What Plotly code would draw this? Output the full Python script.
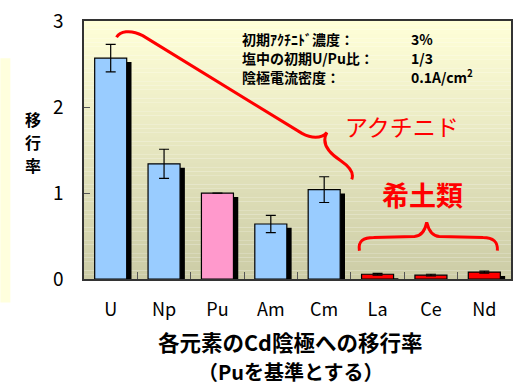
import plotly.graph_objects as go

# ---- data ----
categories = ["U", "Np", "Pu", "Am", "Cm", "La", "Ce", "Nd"]
transfer_ratio = [2.57, 1.34, 1.00, 0.64, 1.04, 0.055, 0.045, 0.08]
error_plus = [0.16, 0.17, 0.0, 0.10, 0.15, 0.01, 0.01, 0.012]
bar_colors = ["#99CCFF", "#99CCFF", "#FF99CC", "#99CCFF", "#99CCFF",
              "#FF0000", "#FF0000", "#FF0000"]
y_ticks = [0, 1, 2, 3]
y_title_chars = ["移", "行", "率"]
info_labels = ["初期ｱｸﾁﾆﾄﾞ濃度：", "塩中の初期U/Pu比：", "陰極電流密度："]
info_values = ["3%", "1/3", "0.1A/cm<sup>2</sup>"]

W, H = 519, 389
L, R, T, B = 84, 6, 15, 110
PW, PH = W - L - R, H - T - B

def px(x, y):
    return (x - L) / PW, (H - B - y) / PH

FONT = "Noto Sans CJK JP"

fig = go.Figure()

# shadow bars
fig.add_trace(go.Bar(
    x=categories, y=transfer_ratio, base=-0.045,
    width=0.6, offset=-0.3 + 0.09,
    marker=dict(color="black", line=dict(width=0)),
    hoverinfo="skip", showlegend=False,
))
# main bars
fig.add_trace(go.Bar(
    x=categories, y=transfer_ratio,
    width=0.6, offset=-0.3,
    marker=dict(color=bar_colors, line=dict(color="black", width=1.2)),
    error_y=dict(type="data", array=error_plus, color="black",
                 thickness=1.2, width=5),
    showlegend=False,
))

shapes = []
# gradient background
n = 60
top = (255, 255, 216)
bot = (204, 204, 166)
for i in range(n):
    f = i / (n - 1)
    c = tuple(int(round(top[k] + (bot[k] - top[k]) * f)) for k in range(3))
    shapes.append(dict(type="rect", xref="paper", yref="paper",
                       x0=0, x1=1, y0=1 - (i + 1) / n, y1=1 - i / n,
                       fillcolor="rgb(%d,%d,%d)" % c, line=dict(width=0),
                       layer="below"))

# left pale strip
shapes.append(dict(type="rect", xref="paper", yref="paper",
                   x0=-L / PW, x1=(10 - L) / PW,
                   y0=(H - B - 303) / PH, y1=(H - B - 53) / PH,
                   fillcolor="#FFFFDD", line=dict(width=0), layer="below"))

def path_from(points_cmds):
    s = ""
    for cmd, pts in points_cmds:
        s += cmd + " " + " ".join("%.4f,%.4f" % px(*p) for p in pts) + " "
    return s.strip()

# big brace (actinides)
big = path_from([
    ("M", [(116.7, 31.7)]),
    ("C", [(120, 26), (130, 23), (143, 30)]),
    ("L", [(303, 130)]),
    ("C", [(312, 135), (322, 136), (328, 129)]),
    ("C", [(322, 140), (330, 150), (342, 158)]),
    ("C", [(352, 165), (355, 172), (353, 177)]),
])
shapes.append(dict(type="path", xref="paper", yref="paper", path=big,
                   line=dict(color="#FF0000", width=3)))

# small brace (rare earths)
small = path_from([
    ("M", [(360.7, 250)]),
    ("C", [(359, 240), (365, 236.5), (375, 236.5)]),
    ("L", [(416, 235.5)]),
    ("C", [(424, 235), (427, 228), (428.3, 221)]),
    ("C", [(430, 228), (433, 235), (441, 235.5)]),
    ("L", [(485, 236.5)]),
    ("C", [(495, 236.5), (500, 241), (499.3, 250)]),
])
shapes.append(dict(type="path", xref="paper", yref="paper", path=small,
                   line=dict(color="#FF0000", width=3)))

annotations = []
for i, (lab, val) in enumerate(zip(info_labels, info_values)):
    yy = 33 + i * 19.5
    x0, y0 = px(241, yy)
    annotations.append(dict(xref="paper", yref="paper", x=x0, y=y0,
                            text="<b>%s</b>" % lab, showarrow=False,
                            xanchor="left", yanchor="middle",
                            font=dict(family=FONT, size=14, color="black")))
    x1, _ = px(411, yy)
    annotations.append(dict(xref="paper", yref="paper", x=x1, y=y0,
                            text="<b>%s</b>" % val, showarrow=False,
                            xanchor="left", yanchor="middle",
                            font=dict(family=FONT, size=14, color="black")))

ax, ay = px(403, 122)
annotations.append(dict(xref="paper", yref="paper", x=ax, y=ay,
                        text="アクチニド", showarrow=False,
                        xanchor="center", yanchor="middle",
                        font=dict(family=FONT, size=23, color="#FF0000")))
rx, ry = px(424, 193)
annotations.append(dict(xref="paper", yref="paper", x=rx, y=ry,
                        text="<b>希土類</b>", showarrow=False,
                        xanchor="center", yanchor="middle",
                        font=dict(family=FONT, size=27, color="#FF0000")))

# y-axis title (vertical stacked characters)
for ch, cy in zip(y_title_chars, [115, 139, 162]):
    yx, yy_ = px(33, cy)
    annotations.append(dict(xref="paper", yref="paper", x=yx, y=yy_,
                            text="<b>%s</b>" % ch, showarrow=False,
                            xanchor="center", yanchor="middle",
                            font=dict(family=FONT, size=16, color="black")))

# x-axis title lines
t1x, t1y = px(291, 343)
annotations.append(dict(xref="paper", yref="paper", x=t1x, y=t1y,
                        text="<b>各元素のCd陰極への移行率</b>", showarrow=False,
                        xanchor="center", yanchor="middle",
                        font=dict(family=FONT, size=21.5, color="black")))
t2x, t2y = px(291, 374)
annotations.append(dict(xref="paper", yref="paper", x=t2x, y=t2y,
                        text="<b>（Puを基準とする）</b>", showarrow=False,
                        xanchor="center", yanchor="middle",
                        font=dict(family=FONT, size=20, color="black")))

fig.update_layout(
    width=W, height=H,
    margin=dict(l=L, r=R, t=T, b=B),
    paper_bgcolor="white",
    plot_bgcolor="rgba(0,0,0,0)",
    barmode="overlay",
    shapes=shapes,
    annotations=annotations,
    xaxis=dict(type="category", categoryorder="array", categoryarray=categories,
               showgrid=False, ticks="inside", tickson="boundaries",
               ticklen=7, tickcolor="#555", tickwidth=1,
               showline=True, linecolor="#333", linewidth=1.5, mirror=True,
               tickfont=dict(family=FONT, size=18, color="black"),
               ticklabelstandoff=14, zeroline=False),
    yaxis=dict(range=[0, 3.002], autorange=False, tickvals=y_ticks,
               ticktext=[str(v) for v in y_ticks], tickmode="array",
               ticklabeloverflow="allow",
               showgrid=False,
               ticks="inside", ticklen=6, tickcolor="#555", tickwidth=1,
               showline=True, linecolor="#333", linewidth=1.5, mirror=True,
               tickfont=dict(family=FONT, size=19, color="black"),
               ticklabelstandoff=15, zeroline=False),
)

fig.write_html("out.html")
